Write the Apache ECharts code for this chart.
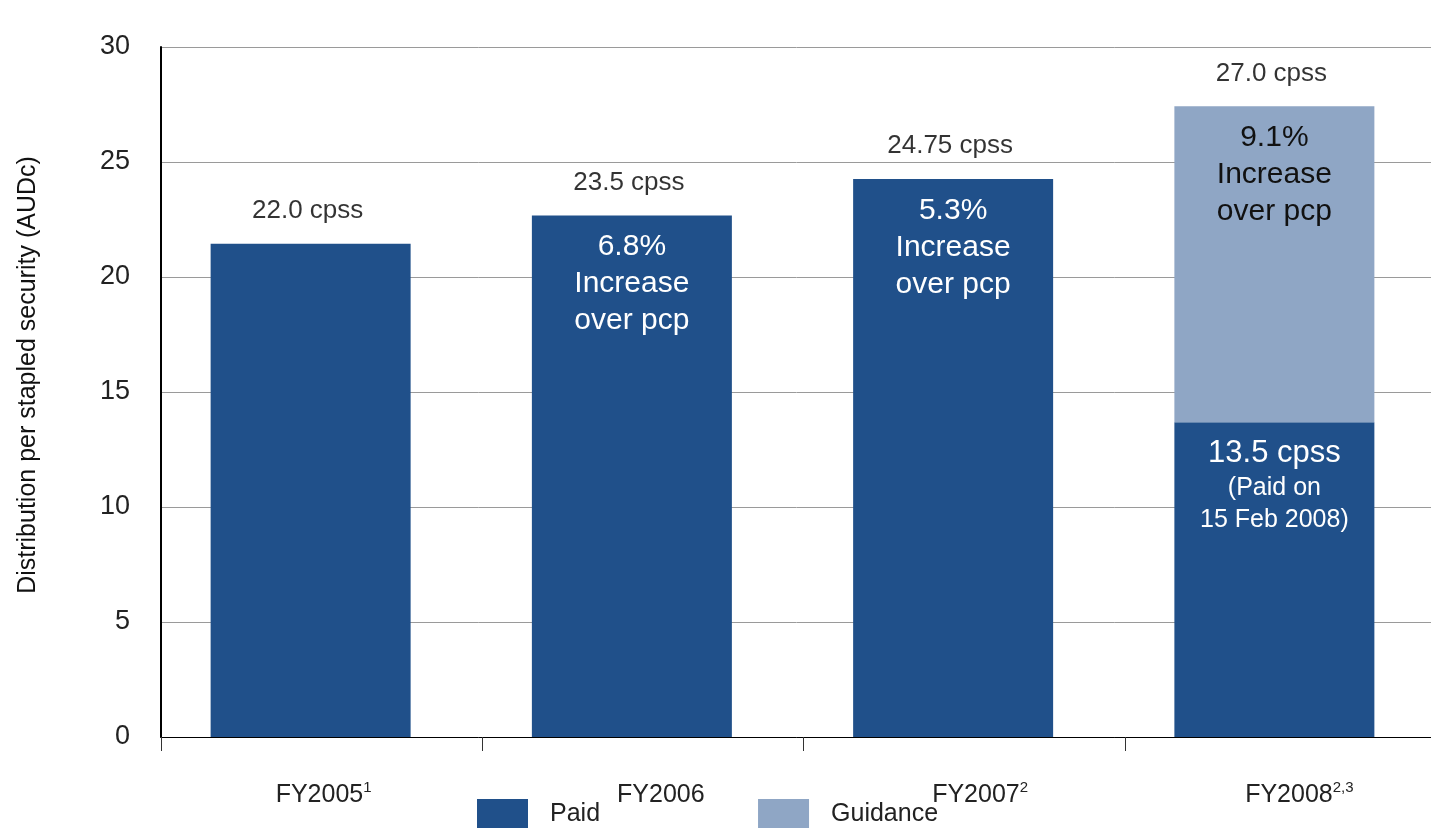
<!DOCTYPE html>
<html>
<head>
<meta charset="utf-8">
<title>Distribution per stapled security</title>
<script src="https://cdn.jsdelivr.net/npm/echarts@6/dist/echarts.min.js"></script>
<style>
  html, body { margin: 0; padding: 0; background: #ffffff; }
  #main { width: 1431px; height: 828px; }
</style>
</head>
<body>
<div id="main"></div>
<script>
// data
var categories = ['FY2005', 'FY2006', 'FY2007', 'FY2008'];
var footnotes = ['1', '', '2', '2,3'];
var paid = [21.45, 22.67, 24.26, 13.68];
var guidance = [null, null, null, 13.74];
var totalLabels = ['22.0 cpss', '23.5 cpss', '24.75 cpss', '27.0 cpss'];
var paidLabels = ['', '6.8%\nIncrease\nover pcp', '5.3%\nIncrease\nover pcp', '{big|13.5 cpss}\n{sm|(Paid on}\n{sm|15 Feb 2008)}'];
var guidanceLabels = ['', '', '', '9.1%\nIncrease\nover pcp'];
var yTicks = [0, 5, 10, 15, 20, 25, 30];

var FONT = 'Liberation Sans';
var DARK = '#20508a';
var LIGHT = '#8fa6c5';

// small shift of the category labels to the right
var labelShift = [4, 36, 32, 28];

var totals = [];
for (var i = 0; i < categories.length; i++) {
  totals.push(paid[i] + (guidance[i] || 0));
}

var paidData = [];
var guidanceData = [];
for (var i = 0; i < categories.length; i++) {
  paidData.push({
    value: paid[i],
    label: { show: paidLabels[i] !== '', formatter: paidLabels[i] }
  });
  guidanceData.push({
    value: guidance[i] == null ? '-' : guidance[i],
    label: { show: guidanceLabels[i] !== '', formatter: guidanceLabels[i] }
  });
}

var rich = {
  sup: { fontFamily: FONT, fontSize: 15, color: '#222', verticalAlign: 'top', lineHeight: 30 },
  main: { fontFamily: FONT, fontSize: 25, color: '#222', lineHeight: 30 }
};
for (var i = 0; i < labelShift.length; i++) {
  rich['p' + i] = { width: labelShift[i], fontSize: 25, lineHeight: 30 };
}

var myChart = echarts.init(document.getElementById('main'));
var option = {
  backgroundColor: '#ffffff',
  animation: false,
  grid: {
    left: 161,
    top: 47,
    width: 1285,
    height: 690,
    outerBoundsMode: 'none'
  },
  legend: {
    data: ['Paid', 'Guidance'],
    left: 477,
    top: 799,
    padding: 0,
    icon: 'rect',
    itemWidth: 51,
    itemHeight: 30,
    itemGap: 158,
    textStyle: {
      fontFamily: FONT,
      fontSize: 25,
      color: '#222',
      padding: [0, 0, 0, 17]
    }
  },
  xAxis: {
    type: 'category',
    data: categories,
    axisLine: { show: true, lineStyle: { color: '#000', width: 1 } },
    axisTick: { show: true, length: 14, lineStyle: { color: '#333', width: 1 } },
    splitLine: { show: false },
    axisLabel: {
      margin: 43,
      interval: 0,
      formatter: function (value, index) {
        var s = '{p' + index + '| }{main|' + value + '}';
        if (footnotes[index]) s += '{sup|' + footnotes[index] + '}';
        return s;
      },
      rich: rich
    }
  },
  yAxis: {
    type: 'value',
    min: yTicks[0],
    max: yTicks[yTicks.length - 1],
    interval: 5,
    name: 'Distribution per stapled security (AUDc)',
    nameLocation: 'middle',
    nameGap: 120,
    nameTextStyle: {
      fontFamily: FONT,
      fontSize: 25,
      color: '#111',
      padding: [0, 0, 0, 34]
    },
    axisLine: { show: true, lineStyle: { color: '#000', width: 2 } },
    axisTick: { show: false },
    axisLabel: {
      margin: 31,
      fontFamily: FONT,
      fontSize: 27,
      color: '#222'
    },
    splitLine: { show: true, lineStyle: { color: '#9a9a9a', width: 1 } }
  },
  series: [
    {
      name: 'Paid',
      type: 'bar',
      stack: 'dist',
      barWidth: 200,
      barGap: '0%',
      itemStyle: { color: DARK },
      label: {
        position: 'insideTop',
        distance: 13,
        color: '#fff',
        fontFamily: FONT,
        fontSize: 30,
        lineHeight: 37,
        rich: {
          big: { fontFamily: FONT, fontSize: 31, lineHeight: 37, color: '#fff' },
          sm: { fontFamily: FONT, fontSize: 25, lineHeight: 32, color: '#fff' }
        }
      },
      data: paidData
    },
    {
      name: 'Guidance',
      type: 'bar',
      stack: 'dist',
      barWidth: 200,
      itemStyle: { color: LIGHT },
      label: {
        position: 'insideTop',
        distance: 13,
        color: '#111',
        fontFamily: FONT,
        fontSize: 30,
        lineHeight: 37
      },
      data: guidanceData
    },
    {
      // empty spacer, pushes the bars a bit left of the category middle
      name: 'spacer',
      type: 'bar',
      stack: 'spacer',
      barWidth: 22,
      silent: true,
      data: categories.map(function () { return '-'; })
    },
    {
      name: 'Total',
      type: 'scatter',
      symbolSize: 0,
      silent: true,
      label: {
        show: true,
        position: 'top',
        distance: 20,
        offset: [-14, 0],
        color: '#000',
        fontFamily: FONT,
        fontSize: 26,
        formatter: function (p) { return totalLabels[p.dataIndex]; }
      },
      data: totals
    }
  ]
};
option && myChart.setOption(option);
</script>
</body>
</html>
